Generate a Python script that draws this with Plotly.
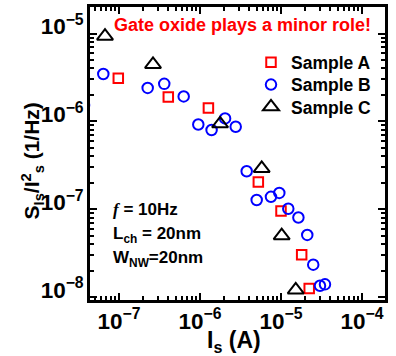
import plotly.graph_objects as go

# Sample A (red squares)
a_x = [9.80e-8, 4.06e-7, 1.27e-6, 5.25e-6, 1.00e-5, 1.80e-5, 2.23e-5]
a_y = [3.09e-6, 1.89e-6, 1.42e-6, 2.03e-7, 9.54e-8, 3.02e-8, 1.25e-8]

# Sample B (blue circles)
b_x = [3.70e-8, 6.40e-8, 2.26e-7, 3.62e-7, 6.29e-7, 9.53e-7, 1.39e-6, 2.04e-6, 2.76e-6,
       3.77e-6, 5.01e-6, 7.52e-6, 9.53e-6, 1.23e-5, 1.64e-5, 2.11e-5, 2.50e-5, 3.03e-5, 3.49e-5]
b_y = [1.53e-6, 3.46e-6, 2.40e-6, 2.67e-6, 1.92e-6, 9.20e-7, 7.96e-7, 1.08e-6, 8.67e-7,
       2.70e-7, 1.27e-7, 1.38e-7, 1.53e-7, 1.01e-7, 8.02e-8, 5.08e-8, 2.33e-8, 1.34e-8, 1.39e-8]

# Sample C (black triangles)
c_x = [6.72e-8, 2.63e-7, 1.77e-6, 5.78e-6, 1.02e-5, 1.52e-5]
c_y = [9.33e-6, 4.45e-6, 9.37e-7, 2.91e-7, 4.99e-8, 1.20e-8]

x_range_log = [-7.358, -3.716]
y_range_log = [-8.035, -4.698]

FONT = "Liberation Sans"
L, R, T, B = 90, 385, 4, 300
W, H = 396, 356


def px_x(p):
    return (p - L) / (R - L)


def px_y(p):
    return 1 - (p - T) / (B - T)


fig = go.Figure()
fig.add_trace(go.Scatter(x=a_x, y=a_y, mode="markers", name="Sample A", legend="legend",
                         marker=dict(symbol="square-open", size=9.5, color="#ff0000",
                                     line=dict(width=2, color="#ff0000"))))
fig.add_trace(go.Scatter(x=b_x, y=b_y, mode="markers", name="Sample B", legend="legend2",
                         marker=dict(symbol="circle-open", size=10.5, color="#0000ff",
                                     line=dict(width=2, color="#0000ff"))))
fig.add_trace(go.Scatter(x=c_x, y=c_y, mode="markers", name="Sample C", legend="legend3",
                         marker=dict(symbol="triangle-up-open", size=14, color="#000000",
                                     line=dict(width=2, color="#000000"))))

axis_common = dict(
    type="log", showgrid=False, zeroline=False,
    showline=True, linecolor="black", linewidth=2.5, mirror="allticks",
    ticks="inside", ticklen=7, tickwidth=2, tickcolor="black",
    dtick=1, exponentformat="power",
    tickfont=dict(family=FONT, size=18, color="black", weight="bold"),
    minor=dict(ticks="inside", ticklen=4, tickwidth=1.5, tickcolor="black", dtick="D1", showgrid=False),
)

fig.update_xaxes(range=x_range_log, **axis_common)
fig.update_yaxes(range=y_range_log, ticklabelshift=-7, **axis_common)

annotations = [
    dict(text="Gate oxide plays a minor role!", x=px_x(242.5), y=px_y(22), xref="paper", yref="paper",
         showarrow=False, xanchor="center", yanchor="middle",
         font=dict(family=FONT, size=18, color="#ff0000", weight="bold")),
    dict(text="<span style='font-family:\"Liberation Serif\"'><i>f</i></span> = 10Hz",
         x=px_x(111), y=px_y(209), xref="paper", yref="paper",
         showarrow=False, xanchor="left", yanchor="middle",
         font=dict(family=FONT, size=17, color="black", weight="bold")),
    dict(text="L<sub>ch</sub> = 20nm",
         x=px_x(111), y=px_y(234), xref="paper", yref="paper",
         showarrow=False, xanchor="left", yanchor="middle",
         font=dict(family=FONT, size=17, color="black", weight="bold")),
    dict(text="W<sub>NW</sub>=20nm",
         x=px_x(111), y=px_y(259), xref="paper", yref="paper",
         showarrow=False, xanchor="left", yanchor="middle",
         font=dict(family=FONT, size=17, color="black", weight="bold")),
    dict(text="S<sub>Is</sub>/I<sup>2</sup><sub>s</sub> (1/Hz)",
         x=px_x(32), y=px_y(160), xref="paper", yref="paper",
         showarrow=False, xanchor="center", yanchor="middle", textangle=-90,
         font=dict(family=FONT, size=21, color="black", weight="bold")),
    dict(text="I<sub>s</sub> (A)",
         x=px_x(234), y=px_y(342), xref="paper", yref="paper",
         showarrow=False, xanchor="center", yanchor="middle",
         font=dict(family=FONT, size=23, color="black", weight="bold")),
]

legend_common = dict(xanchor="left", yanchor="middle", bgcolor="rgba(0,0,0,0)", borderwidth=0,
                     font=dict(family=FONT, size=17.5, color="black", weight="bold"),
                     itemwidth=30)

fig.update_layout(
    width=W, height=H,
    margin=dict(l=L, r=W - R, t=T, b=H - B, pad=0),
    paper_bgcolor="white", plot_bgcolor="white",
    showlegend=True,
    legend=dict(x=px_x(251), y=px_y(60), **legend_common),
    legend2=dict(x=px_x(251), y=px_y(82.5), **legend_common),
    legend3=dict(x=px_x(251), y=px_y(105), **legend_common),
    annotations=annotations,
)

fig.write_html("out.html", config={"displayModeBar": False},
               post_script="document.body.style.margin='0px';")
